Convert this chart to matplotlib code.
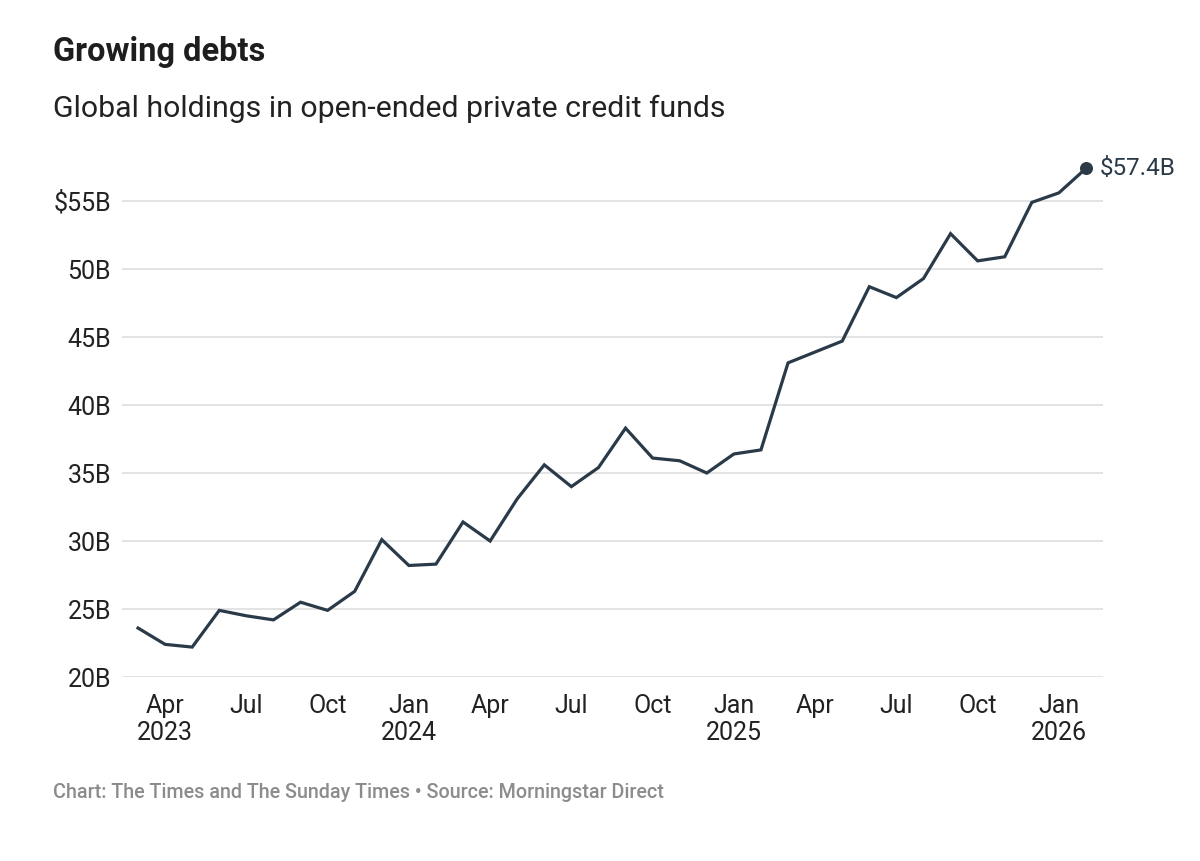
import matplotlib
matplotlib.use("Agg")
import matplotlib.pyplot as plt

plt.rcParams['font.family'] = ['Roboto', 'DejaVu Sans']

# Monthly holdings, Mar 2023 - Feb 2026 ($bn)
months = ["Mar 2023", "Apr 2023", "May 2023", "Jun 2023", "Jul 2023", "Aug 2023",
          "Sep 2023", "Oct 2023", "Nov 2023", "Dec 2023", "Jan 2024", "Feb 2024",
          "Mar 2024", "Apr 2024", "May 2024", "Jun 2024", "Jul 2024", "Aug 2024",
          "Sep 2024", "Oct 2024", "Nov 2024", "Dec 2024", "Jan 2025", "Feb 2025",
          "Mar 2025", "Apr 2025", "May 2025", "Jun 2025", "Jul 2025", "Aug 2025",
          "Sep 2025", "Oct 2025", "Nov 2025", "Dec 2025", "Jan 2026", "Feb 2026"]
holdings = [23.6, 22.4, 22.2, 24.9, 24.5, 24.2, 25.5, 24.9, 26.3, 30.1, 28.2, 28.3,
            31.4, 30.0, 33.1, 35.6, 34.0, 35.4, 38.3, 36.1, 35.9, 35.0, 36.4, 36.7,
            43.1, 43.9, 44.7, 48.7, 47.9, 49.3, 52.6, 50.6, 50.9, 54.9, 55.6, 57.4]

tick_months = ["Apr 2023", "Jul 2023", "Oct 2023", "Jan 2024", "Apr 2024", "Jul 2024",
               "Oct 2024", "Jan 2025", "Apr 2025", "Jul 2025", "Oct 2025", "Jan 2026"]
tick_labels = ["Apr\n2023", "Jul", "Oct", "Jan\n2024", "Apr", "Jul",
               "Oct", "Jan\n2025", "Apr", "Jul", "Oct", "Jan\n2026"]
y_ticks = [20, 25, 30, 35, 40, 45, 50, 55]
y_labels = ["20B", "25B", "30B", "35B", "40B", "45B", "50B", "$55B"]

line_color = "#2a3a48"
x = list(range(len(months)))

fig = plt.figure(figsize=(12, 8.61), dpi=100)
ax = fig.add_axes([0.1017, 0.2137, 0.8175, 0.6002])

ax.plot(x, holdings, color=line_color, linewidth=2.3, solid_joinstyle='miter', zorder=3)
ax.scatter([x[-1]], [holdings[-1]], s=70, color=line_color, zorder=4, clip_on=False)
ax.annotate(f"${holdings[-1]}B", (x[-1], holdings[-1]), xytext=(10, 0),
            textcoords='offset points', va='center', ha='left',
            fontsize=17.5, color=line_color)

ax.set_xlim(-0.59, len(months) - 1 + 0.63)
ax.set_ylim(20, 58)
ax.set_yticks(y_ticks)
ax.set_yticklabels(y_labels)
ax.set_xticks([months.index(m) for m in tick_months])
ax.set_xticklabels(tick_labels)

ax.grid(axis='y', color='#e3e3e3', linewidth=1.4, zorder=0)
for s in ax.spines.values():
    s.set_visible(False)
ax.tick_params(axis='both', length=0, labelsize=18, colors='#222222')
ax.tick_params(axis='y', pad=8)
ax.tick_params(axis='x', pad=12)
for lbl in ax.get_xticklabels():
    lbl.set_verticalalignment('top')

fig.text(0.044, 0.940, "Growing debts", fontsize=23.5, fontweight='bold',
         color='#1e1e1e', va='center', ha='left')
fig.text(0.044, 0.873, "Global holdings in open-ended private credit funds",
         fontsize=21.8, color='#222222', va='center', ha='left')
fig.text(0.044, 0.079, "Chart: The Times and The Sunday Times \u2022 Source: Morningstar Direct",
         fontsize=14.2, color='#8c8c8c', fontweight='medium', va='center', ha='left')

fig.savefig("out.png", dpi=100, facecolor='white')
